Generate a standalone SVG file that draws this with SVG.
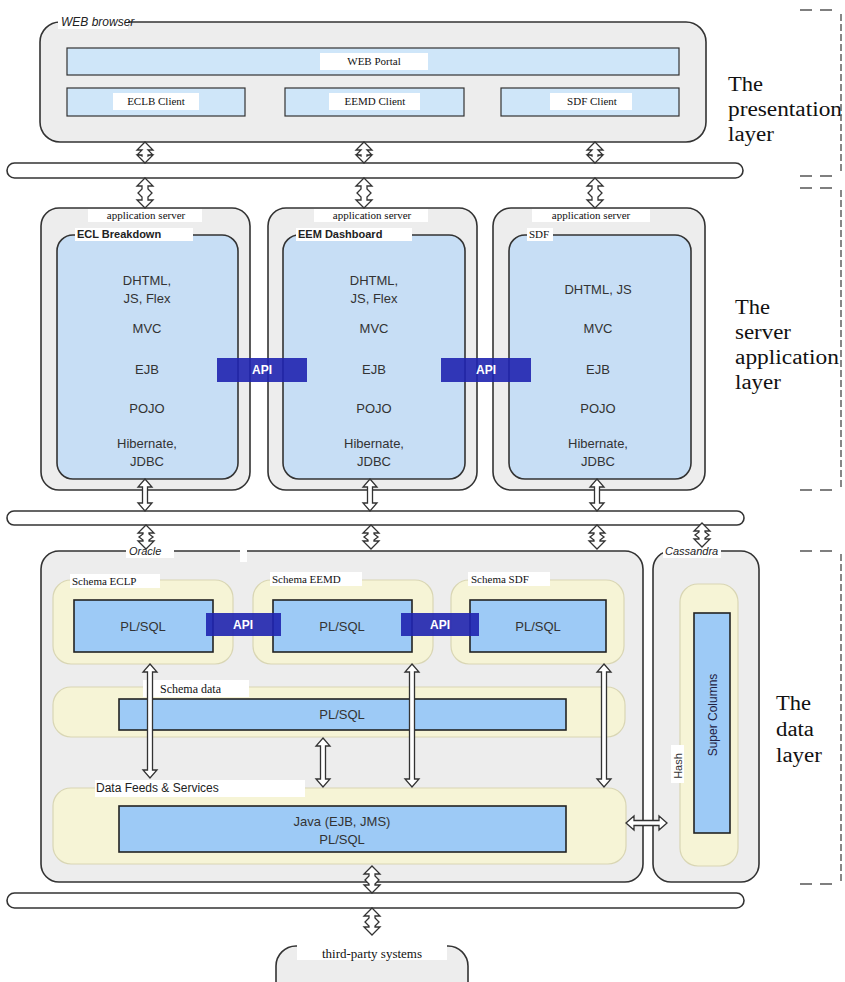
<svg xmlns="http://www.w3.org/2000/svg" width="845" height="982" viewBox="0 0 845 982">
<style>
.box{fill:#ededed;stroke:#333;stroke-width:1.6}
.bar{fill:#cfe6f9;stroke:#333;stroke-width:1.2}
.inner{fill:#c7def5;stroke:#333;stroke-width:1.6}
.yel{fill:#f6f4d6;stroke:#d9d6b4;stroke-width:1.2}
.pl{fill:#9dcaf6;stroke:#222;stroke-width:1.6}
.api{fill:#1f23b0;fill-opacity:0.9}
.bus{fill:#fff;stroke:#333;stroke-width:1.6}
.arr{fill:#fff;stroke:#333;stroke-width:1.3;stroke-linejoin:miter}
.wbg{fill:#fff}
.t{font-family:"Liberation Sans",Arial,sans-serif;font-size:13px;fill:#333;text-anchor:middle}
.ts{font-family:"Liberation Serif","Times New Roman",serif;font-size:11px;fill:#111}
.tsc{font-family:"Liberation Serif","Times New Roman",serif;font-size:11px;fill:#111;text-anchor:middle}
.ti{font-family:"Liberation Sans",Arial,sans-serif;font-size:11px;font-style:italic;fill:#222}
.tb{font-family:"Liberation Sans",Arial,sans-serif;font-size:11px;font-weight:bold;fill:#222}
.tapi{font-family:"Liberation Sans",Arial,sans-serif;font-size:12px;font-weight:bold;fill:#fff;text-anchor:middle}
.layer{font-family:"Liberation Serif","Times New Roman",serif;font-size:20px;fill:#111}
.dash{stroke:#555;stroke-width:1.4;fill:none}
</style>

<g id="buses">
<rect class="bus" x="7" y="163" width="736" height="15" rx="7.5"/>
<rect class="bus" x="7" y="511" width="737" height="14" rx="7"/>
<rect class="bus" x="7" y="893" width="737" height="15" rx="7.5"/>
</g>

<g id="web-browser">
<rect class="box" x="40" y="22" width="666" height="120" rx="20"/>
<rect class="wbg" x="58" y="14" width="70" height="15"/>
<text class="ti" x="61" y="26" style="font-size:12px">WEB browser</text>
<g id="web-portal">
<rect class="bar" x="67" y="48" width="612" height="27"/>
<rect class="wbg" x="320" y="53" width="108" height="17"/>
<text class="tsc" x="374" y="65">WEB Portal</text>
</g>
<g id="eclb-client">
<rect class="bar" x="67" y="88" width="178" height="28"/>
<rect class="wbg" x="113" y="93" width="86" height="17"/>
<text class="tsc" x="156" y="105">ECLB Client</text>
</g>
<g id="eemd-client">
<rect class="bar" x="285" y="88" width="179" height="28"/>
<rect class="wbg" x="329" y="93" width="91" height="17"/>
<text class="tsc" x="375" y="105">EEMD Client</text>
</g>
<g id="sdf-client">
<rect class="bar" x="501" y="88" width="178" height="28"/>
<rect class="wbg" x="550" y="93" width="82" height="17"/>
<text class="tsc" x="592" y="105">SDF Client</text>
</g>
</g>

<g id="app-server-1">
<rect class="box" x="41" y="208" width="209" height="282" rx="18"/>
<rect class="wbg" x="88" y="209" width="114" height="13"/>
<text class="tsc" x="146" y="219">application server</text>
<rect class="inner" x="57" y="235" width="181" height="244" rx="16"/>
<rect class="wbg" x="75" y="228" width="118" height="13"/>
<text class="tb" x="77" y="238">ECL Breakdown</text>
<text class="t" x="147" y="285">DHTML,</text>
<text class="t" x="147" y="303">JS, Flex</text>
<text class="t" x="147" y="333">MVC</text>
<text class="t" x="147" y="374">EJB</text>
<text class="t" x="147" y="413">POJO</text>
<text class="t" x="147" y="448">Hibernate,</text>
<text class="t" x="147" y="466">JDBC</text>
</g>

<g id="app-server-2">
<rect class="box" x="268" y="208" width="209" height="282" rx="18"/>
<rect class="wbg" x="314" y="209" width="114" height="13"/>
<text class="tsc" x="372" y="219">application server</text>
<rect class="inner" x="283" y="235" width="182" height="244" rx="16"/>
<rect class="wbg" x="296" y="228" width="116" height="13"/>
<text class="tb" x="298" y="238">EEM Dashboard</text>
<text class="t" x="374" y="285">DHTML,</text>
<text class="t" x="374" y="303">JS, Flex</text>
<text class="t" x="374" y="333">MVC</text>
<text class="t" x="374" y="374">EJB</text>
<text class="t" x="374" y="413">POJO</text>
<text class="t" x="374" y="448">Hibernate,</text>
<text class="t" x="374" y="466">JDBC</text>
</g>

<g id="app-server-3">
<rect class="box" x="493" y="208" width="212" height="282" rx="18"/>
<rect class="wbg" x="532" y="209" width="118" height="13"/>
<text class="tsc" x="591" y="219">application server</text>
<rect class="inner" x="509" y="235" width="182" height="244" rx="16"/>
<rect class="wbg" x="527" y="228" width="26" height="13"/>
<text class="ts" x="529" y="238">SDF</text>
<text class="t" x="598" y="294">DHTML, JS</text>
<text class="t" x="598" y="333">MVC</text>
<text class="t" x="598" y="374">EJB</text>
<text class="t" x="598" y="413">POJO</text>
<text class="t" x="598" y="448">Hibernate,</text>
<text class="t" x="598" y="466">JDBC</text>
</g>

<g id="api-app-1">
<rect class="api" x="217" y="358" width="90" height="24"/>
<text class="tapi" x="262" y="374">API</text>
</g>
<g id="api-app-2">
<rect class="api" x="441" y="358" width="90" height="24"/>
<text class="tapi" x="486" y="374">API</text>
</g>

<g id="oracle">
<rect class="box" x="41" y="551" width="602" height="331" rx="18"/>
<rect class="wbg" x="126" y="544" width="48" height="14"/>
<text class="ti" x="129" y="555">Oracle</text>
<rect class="wbg" x="240" y="548" width="7" height="14"/>
<g id="schema-eclp">
<rect class="yel" x="53" y="580" width="180" height="84" rx="18"/>
<rect class="wbg" x="70" y="574" width="90" height="14"/>
<text class="ts" x="72" y="585">Schema ECLP</text>
<rect class="pl" x="74" y="600" width="139" height="52"/>
<text class="t" x="143" y="631">PL/SQL</text>
</g>
<g id="schema-eemd">
<rect class="yel" x="253" y="580" width="180" height="84" rx="18"/>
<rect class="wbg" x="270" y="572" width="92" height="14"/>
<text class="ts" x="272" y="583">Schema EEMD</text>
<rect class="pl" x="273" y="600" width="139" height="52"/>
<text class="t" x="342" y="631">PL/SQL</text>
</g>
<g id="schema-sdf">
<rect class="yel" x="451" y="580" width="173" height="84" rx="18"/>
<rect class="wbg" x="468" y="572" width="82" height="14"/>
<text class="ts" x="471" y="583">Schema SDF</text>
<rect class="pl" x="470" y="600" width="136" height="52"/>
<text class="t" x="538" y="631">PL/SQL</text>
</g>
<g id="api-db-1">
<rect class="api" x="206" y="613" width="75" height="23"/>
<text class="tapi" x="243" y="629">API</text>
</g>
<g id="api-db-2">
<rect class="api" x="401" y="613" width="78" height="23"/>
<text class="tapi" x="440" y="629">API</text>
</g>
<g id="schema-data">
<rect class="yel" x="53" y="687" width="572" height="50" rx="18"/>
<rect class="pl" x="119" y="699" width="447" height="31"/>
<rect class="wbg" x="143" y="680" width="106" height="17"/>
<text class="ts" x="160" y="693" style="font-size:12px">Schema data</text>
<text class="t" x="342" y="719">PL/SQL</text>
</g>
<g id="data-feeds">
<rect class="yel" x="53" y="788" width="573" height="76" rx="18"/>
<rect class="pl" x="119" y="806" width="447" height="46"/>
<rect class="wbg" x="95" y="780" width="210" height="17"/>
<text x="96" y="792" style="font-family:'Liberation Sans',Arial,sans-serif;font-size:12px;fill:#222">Data Feeds &amp; Services</text>
<text class="t" x="342" y="826">Java (EJB, JMS)</text>
<text class="t" x="342" y="844">PL/SQL</text>
</g>
</g>

<g id="cassandra">
<rect class="box" x="653" y="551" width="106" height="331" rx="18"/>
<rect class="wbg" x="663" y="544" width="58" height="14"/>
<text class="ti" x="665" y="555">Cassandra</text>
<rect class="yel" x="680" y="584" width="58" height="282" rx="18"/>
<rect class="pl" x="694" y="613" width="36" height="220"/>
<text class="t" transform="translate(717,715) rotate(-90)" style="font-size:12px;fill:#224">Super Columns</text>
<rect class="wbg" x="671" y="745" width="13" height="38"/>
<text class="t" transform="translate(682,766) rotate(-90)" style="font-size:11px">Hash</text>
</g>

<g id="third-party">
<rect class="box" x="276" y="946" width="192" height="60" rx="20"/>
<rect class="wbg" x="297" y="942" width="150" height="18"/>
<text class="tsc" x="372" y="958" style="font-size:13px">third-party systems</text>
</g>

<g id="connectors">
<path class="arr" d="M145,142 L153,150 L148,150 L148,150 L152,154 L148,156 L148,155 L153,155 L145,163 L137,155 L142,155 L142,156 L138,154 L142,150 L142,150 L137,150 Z"/>
<path class="arr" d="M145,178 L153,186 L148,186 L148,189 L152,193 L148,197 L148,200 L153,200 L145,208 L137,200 L142,200 L142,197 L138,193 L142,189 L142,186 L137,186 Z"/>
<path class="arr" d="M364,142 L372,150 L367,150 L367,150 L371,154 L367,156 L367,155 L372,155 L364,163 L356,155 L361,155 L361,156 L357,154 L361,150 L361,150 L356,150 Z"/>
<path class="arr" d="M364,178 L372,186 L367,186 L367,189 L371,193 L367,197 L367,200 L372,200 L364,208 L356,200 L361,200 L361,197 L357,193 L361,189 L361,186 L356,186 Z"/>
<path class="arr" d="M595,142 L603,150 L598,150 L598,150 L602,154 L598,156 L598,155 L603,155 L595,163 L587,155 L592,155 L592,156 L588,154 L592,150 L592,150 L587,150 Z"/>
<path class="arr" d="M595,178 L603,186 L598,186 L598,189 L602,193 L598,197 L598,200 L603,200 L595,208 L587,200 L592,200 L592,197 L588,193 L592,189 L592,186 L587,186 Z"/>

<path class="arr" d="M146,525 L154,533 L149,533 L149,534 L153,537 L149,540 L149,541 L154,541 L146,549 L138,541 L143,541 L143,540 L139,537 L143,534 L143,533 L138,533 Z"/>
<path class="arr" d="M371,525 L379,533 L374,533 L374,534 L378,537 L374,540 L374,541 L379,541 L371,549 L363,541 L368,541 L368,540 L364,537 L368,534 L368,533 L363,533 Z"/>
<path class="arr" d="M597,525 L605,533 L600,533 L600,534 L604,537 L600,540 L600,541 L605,541 L597,549 L589,541 L594,541 L594,540 L590,537 L594,534 L594,533 L589,533 Z"/>
<path class="arr" d="M702,523 L710,531 L705,531 L705,532 L709,535 L705,538 L705,539 L710,539 L702,547 L694,539 L699,539 L699,538 L695,535 L699,532 L699,531 L694,531 Z"/>

<path class="arr" d="M372,866 L380,874 L375,874 L375,876 L379,880 L375,884 L375,885 L380,885 L372,893 L364,885 L369,885 L369,884 L365,880 L369,876 L369,874 L364,874 Z"/>
<path class="arr" d="M372,908 L380,916 L375,916 L375,918 L379,922 L375,926 L375,927 L380,927 L372,935 L364,927 L369,927 L369,926 L365,922 L369,918 L369,916 L364,916 Z"/>

<path class="arr" d="M145,479 L152,487 L147.5,487 L147.5,503 L152,503 L145,511 L138,503 L142.5,503 L142.5,487 L138,487 Z"/>
<path class="arr" d="M370,479 L377,487 L372.5,487 L372.5,503 L377,503 L370,511 L363,503 L367.5,503 L367.5,487 L363,487 Z"/>
<path class="arr" d="M597,479 L604,487 L599.5,487 L599.5,503 L604,503 L597,511 L590,503 L594.5,503 L594.5,487 L590,487 Z"/>

<path class="arr" d="M150,664 L157,672 L152.5,672 L152.5,770 L157,770 L150,778 L143,770 L147.5,770 L147.5,672 L143,672 Z"/>
<path class="arr" d="M323,738 L330,746 L325.5,746 L325.5,779 L330,779 L323,787 L316,779 L320.5,779 L320.5,746 L316,746 Z"/>
<path class="arr" d="M412,664 L419,672 L414.5,672 L414.5,779 L419,779 L412,787 L405,779 L409.5,779 L409.5,672 L405,672 Z"/>
<path class="arr" d="M604,664 L611,672 L606.5,672 L606.5,779 L611,779 L604,787 L597,779 L601.5,779 L601.5,672 L597,672 Z"/>

<path class="arr" d="M626,823 L634,816 L634,820.5 L659,820.5 L659,816 L667,823 L659,830 L659,825.5 L634,825.5 L634,830 Z"/>
</g>

<g id="layer-labels">
<text class="layer" x="728" y="91" textLength="35" lengthAdjust="spacingAndGlyphs">The</text>
<text class="layer" x="728" y="116" textLength="114" lengthAdjust="spacingAndGlyphs">presentation</text>
<text class="layer" x="728" y="141" textLength="46" lengthAdjust="spacingAndGlyphs">layer</text>
<text class="layer" x="735" y="314" textLength="35" lengthAdjust="spacingAndGlyphs">The</text>
<text class="layer" x="735" y="339" textLength="56" lengthAdjust="spacingAndGlyphs">server</text>
<text class="layer" x="735" y="364" textLength="104" lengthAdjust="spacingAndGlyphs">application</text>
<text class="layer" x="735" y="389" textLength="46" lengthAdjust="spacingAndGlyphs">layer</text>
<text class="layer" x="776" y="710" textLength="35" lengthAdjust="spacingAndGlyphs">The</text>
<text class="layer" x="776" y="736" textLength="38" lengthAdjust="spacingAndGlyphs">data</text>
<text class="layer" x="776" y="762" textLength="46" lengthAdjust="spacingAndGlyphs">layer</text>
</g>

<g id="layer-brackets" class="dash">
<path d="M800,10 H812 M820,10 H832"/>
<path d="M800,176 H812 M820,176 H832"/>
<path d="M800,188 H812 M820,188 H832"/>
<path d="M800,490 H812 M820,490 H832"/>
<path d="M800,551 H812 M820,551 H832"/>
<path d="M800,884 H812 M820,884 H832"/>
<path d="M841,14 V174 M841,190 V488 M841,554 V882" stroke-dasharray="7,3"/>
</g>
</svg>
